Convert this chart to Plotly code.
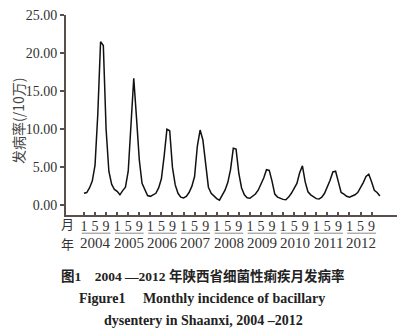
import plotly.graph_objects as go

years = [2004, 2005, 2006, 2007, 2008, 2009, 2010, 2011, 2012]
month_labels = ["1", "5", "9"]
month_label_pos = [0, 4, 8]

inc_2004 = [1.6, 1.7, 2.3, 3.2, 5.3, 12.0, 21.5, 21.0, 10.0, 4.5, 2.8, 2.1]
inc_2005 = [1.85, 1.4, 1.95, 2.4, 4.5, 10.2, 16.7, 11.5, 6.0, 2.9, 2.0, 1.3]
inc_2006 = [1.2, 1.4, 1.6, 2.3, 3.5, 6.5, 10.0, 9.8, 5.0, 2.7, 1.6, 1.1]
inc_2007 = [1.0, 1.2, 1.7, 2.5, 3.8, 7.8, 9.9, 8.6, 5.6, 2.4, 1.6, 1.2]
inc_2008 = [0.9, 0.7, 1.3, 2.0, 3.0, 4.7, 7.5, 7.4, 4.2, 2.3, 1.4, 1.0]
inc_2009 = [0.95, 1.2, 1.5, 2.0, 2.8, 3.6, 4.7, 4.6, 3.2, 1.5, 1.1, 0.9]
inc_2010 = [0.8, 0.75, 1.1, 1.6, 2.3, 2.9, 4.3, 5.2, 3.1, 1.8, 1.4, 1.2]
inc_2011 = [0.9, 0.85, 1.1, 1.6, 2.4, 3.3, 4.4, 4.5, 3.1, 1.7, 1.5, 1.2]
inc_2012 = [1.1, 1.2, 1.4, 1.7, 2.3, 3.0, 3.8, 4.1, 3.1, 2.0, 1.7, 1.25]

yearly = [inc_2004, inc_2005, inc_2006, inc_2007, inc_2008,
          inc_2009, inc_2010, inc_2011, inc_2012]
values = [v for yr in yearly for v in yr]
x_idx = list(range(len(values)))

y_ticks = [0, 5, 10, 15, 20, 25]

tickvals = [12 * i + p for i in range(len(years)) for p in month_label_pos]
ticktext = [t for _ in years for t in month_labels]

axis_col = "#5a4f4c"
txt_col = "#333333"
serif = "Liberation Serif, Times New Roman, serif"
cjk = "Noto Sans CJK SC"

fig = go.Figure()
fig.add_trace(go.Scatter(x=x_idx, y=values, mode="lines",
                         line=dict(color="#111111", width=1.5),
                         hoverinfo="skip", showlegend=False))

fig.update_layout(
    width=406, height=336,
    margin=dict(l=66, r=9, t=15, b=121),
    paper_bgcolor="white", plot_bgcolor="white",
    xaxis=dict(range=[-6.5, 113.2], showgrid=False, zeroline=False,
               showline=True, linecolor=axis_col, linewidth=2,
               ticks="inside", ticklen=3, tickwidth=1.5, tickcolor=axis_col,
               tickvals=tickvals, ticktext=ticktext, ticklabelstandoff=-3,
               tickfont=dict(family=serif, size=14, color=txt_col)),
    yaxis=dict(range=[-1.25, 25], showgrid=False, zeroline=False,
               showline=True, linecolor=axis_col, linewidth=2,
               ticks="outside", ticklen=4, tickwidth=1.5, tickcolor=axis_col,
               tickvals=y_ticks, tickformat=".2f",
               tickfont=dict(family=serif, size=14, color=txt_col)),
)

# y-axis title
fig.add_annotation(text="发病率(/10万)", textangle=-90, xref="paper", yref="paper",
                   x=-0.145, y=0.47, showarrow=False, xanchor="center", yanchor="middle",
                   font=dict(family=cjk, size=14, color="#444444"))

# 月 / 年 row labels
fig.add_annotation(text="月", xref="paper", yref="paper", x=0.006, y=-0.04,
                   showarrow=False, xanchor="center", yanchor="middle",
                   font=dict(family=cjk, size=13, color=txt_col))
fig.add_annotation(text="年", xref="paper", yref="paper", x=0.006, y=-0.142,
                   showarrow=False, xanchor="center", yanchor="middle",
                   font=dict(family=cjk, size=13, color=txt_col))

# year labels and overlines
for i, yr in enumerate(years):
    fig.add_annotation(text=str(yr), xref="x", yref="paper", x=12 * i + 4.3, y=-0.14,
                       showarrow=False, xanchor="center", yanchor="middle",
                       font=dict(family=serif, size=15, color=txt_col))
    fig.add_shape(type="line", xref="x", yref="paper",
                  x0=12 * i - 0.8, x1=12 * i + 9.6, y0=-0.091, y1=-0.091,
                  line=dict(color="#888888", width=1))

# caption
fig.add_annotation(text="<b>图1    2004 —2012 年陕西省细菌性痢疾月发病率</b>",
                   xref="paper", yref="paper", x=0.414, y=-0.305, showarrow=False,
                   xanchor="center", yanchor="middle",
                   font=dict(family="Liberation Serif, " + cjk, size=13.5, color="#222222"))
fig.add_annotation(text="<b>Figure1     Monthly incidence of bacillary</b>",
                   xref="paper", yref="paper", x=0.41, y=-0.415, showarrow=False,
                   xanchor="center", yanchor="middle",
                   font=dict(family=serif, size=14, color="#222222"))
fig.add_annotation(text="<b>dysentery in Shaanxi, 2004 –2012</b>",
                   xref="paper", yref="paper", x=0.414, y=-0.525, showarrow=False,
                   xanchor="center", yanchor="middle",
                   font=dict(family=serif, size=14, color="#222222"))

fig.write_html("out.html")
